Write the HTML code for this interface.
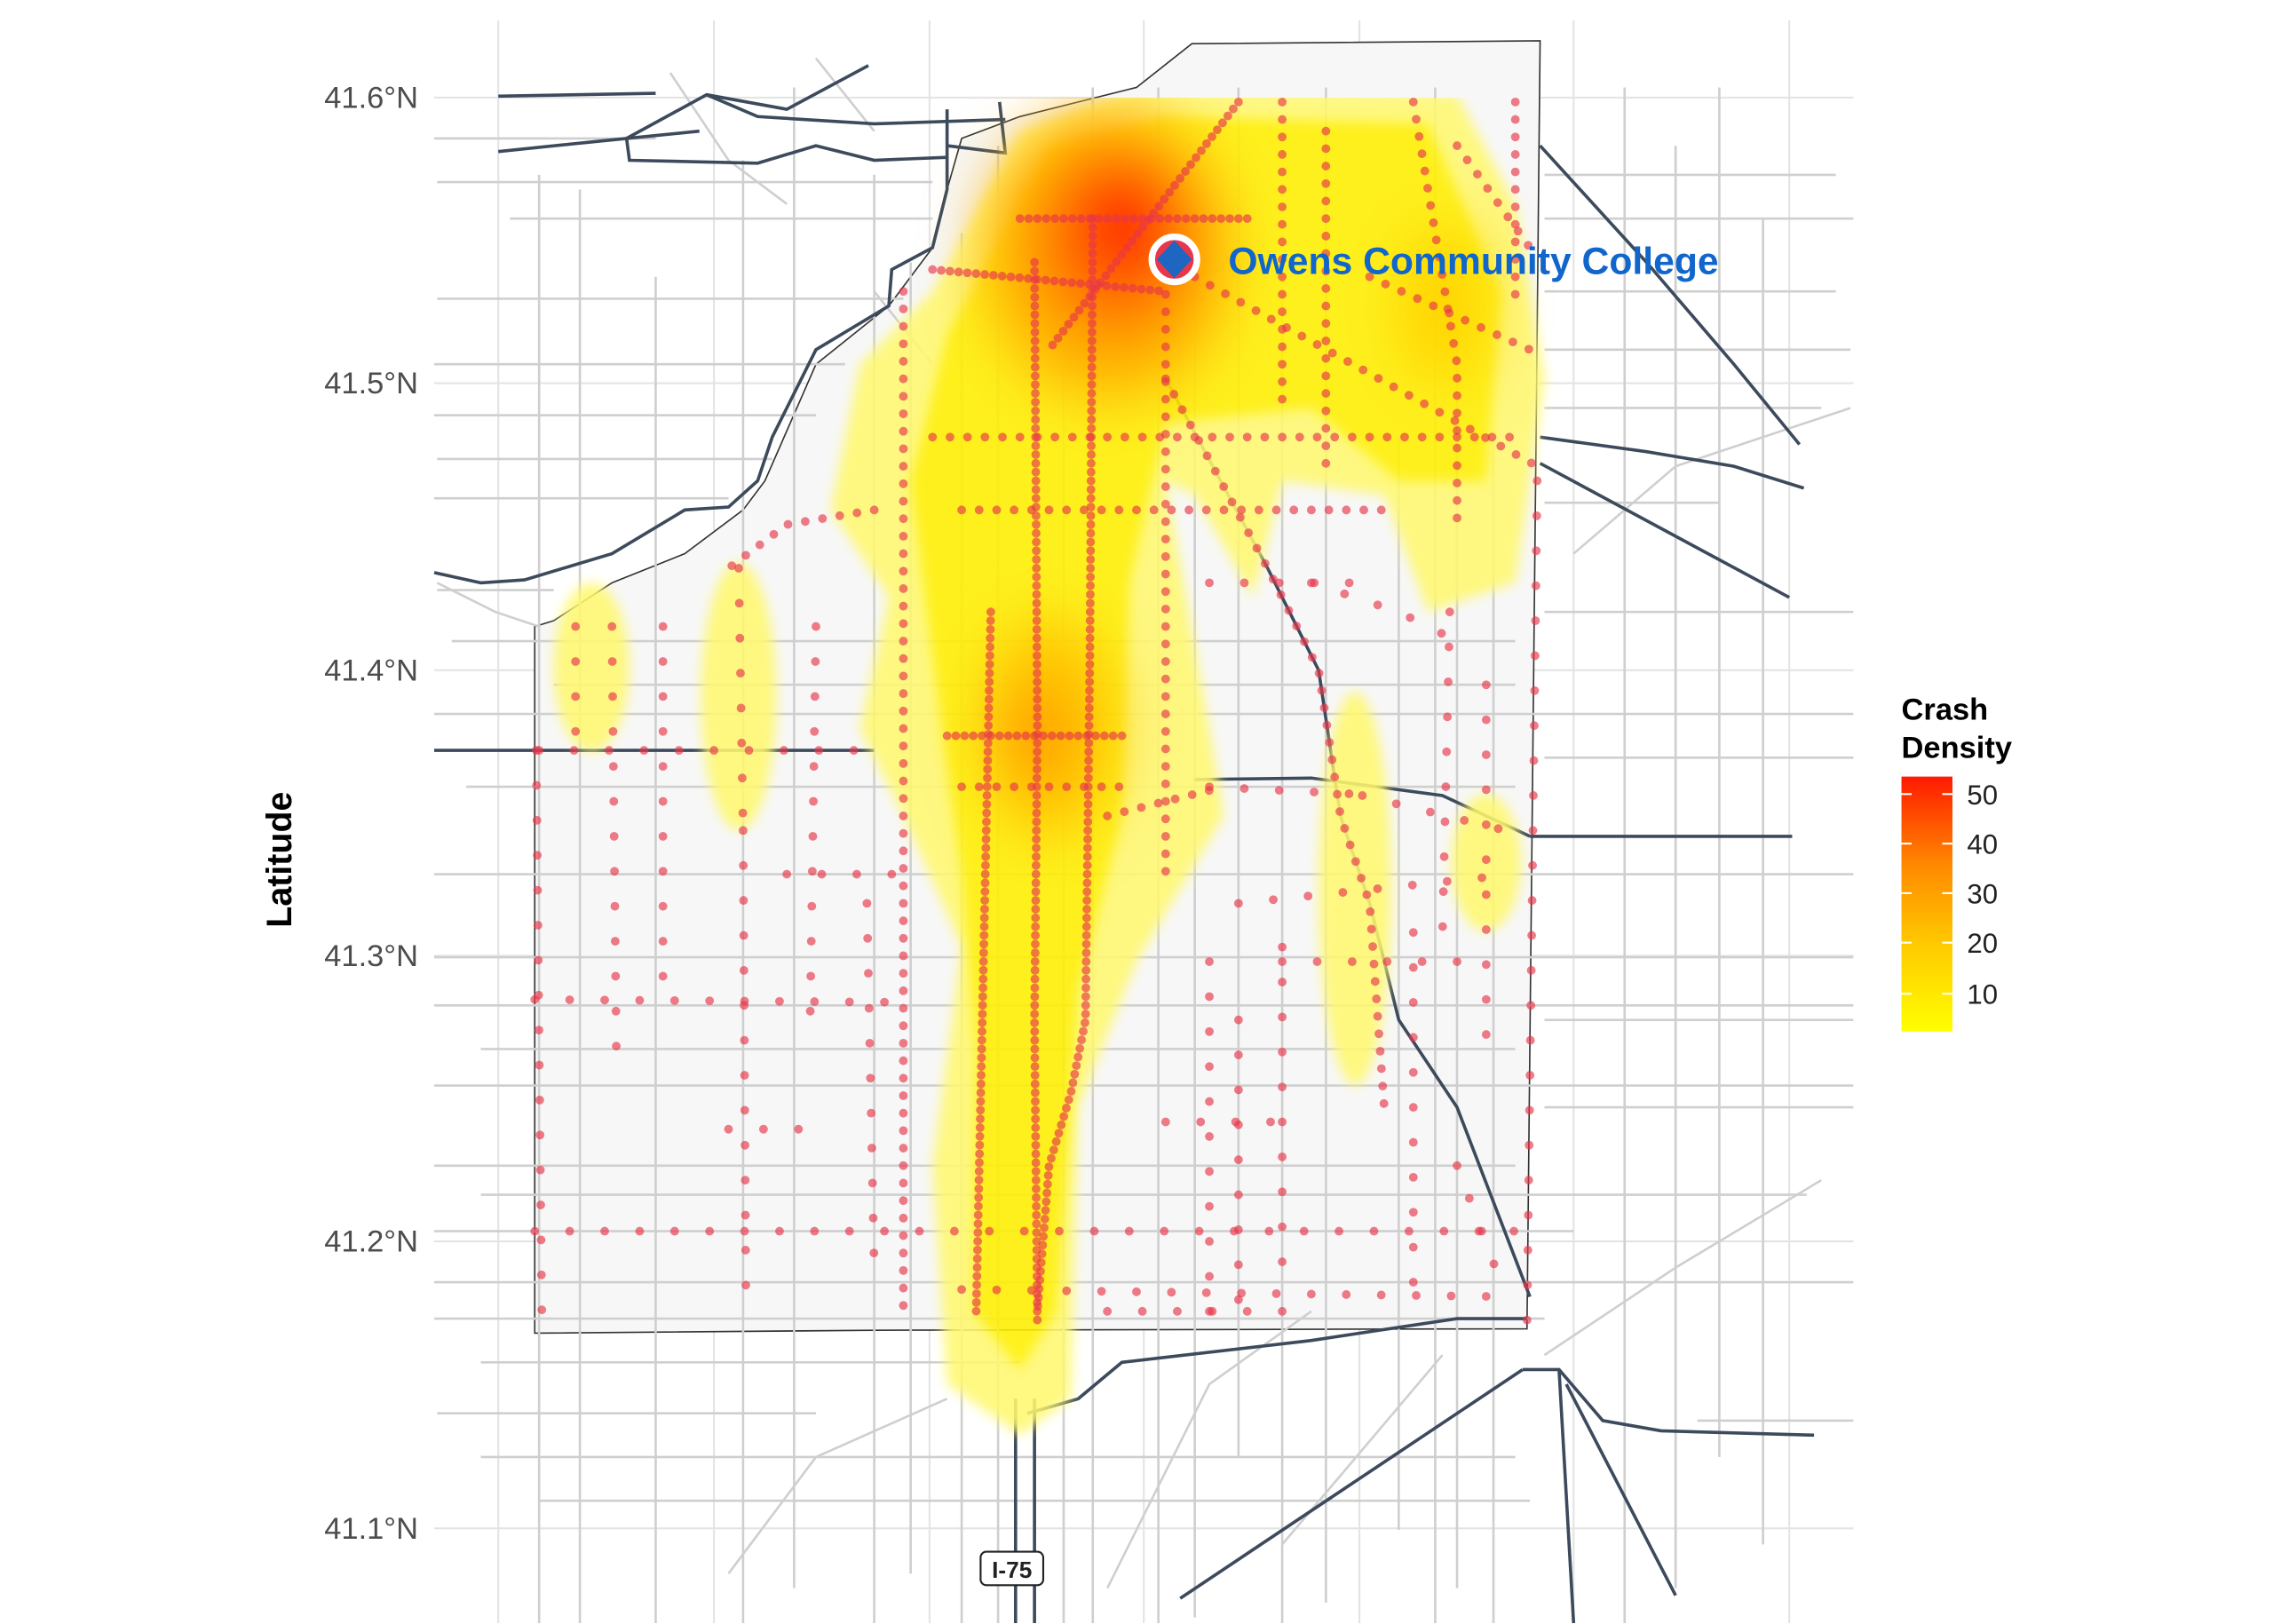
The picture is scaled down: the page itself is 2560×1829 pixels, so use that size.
<!DOCTYPE html>
<html><head><meta charset="utf-8"><style>
html,body{margin:0;padding:0;background:#fff;}
svg{display:block;}
text{font-family:"Liberation Sans",sans-serif;}
</style></head><body>
<svg width="2560" height="1829" viewBox="0 0 1560 1114.6" preserveAspectRatio="none" xmlns="http://www.w3.org/2000/svg">
<defs>
<filter id="b1" x="-50%" y="-50%" width="200%" height="200%"><feGaussianBlur stdDeviation="4"/></filter>
<filter id="b2" x="-50%" y="-50%" width="200%" height="200%"><feGaussianBlur stdDeviation="20"/></filter>
<linearGradient id="lg" x1="0" y1="1" x2="0" y2="0"><stop offset="0" stop-color="#ffff00"/><stop offset="0.35" stop-color="#ffc800"/><stop offset="0.65" stop-color="#ff8a00"/><stop offset="1" stop-color="#ff1a00"/></linearGradient>
<clipPath id="cp"><rect x="0" y="67" width="1560" height="1050"/></clipPath>
</defs>
<g stroke="#e4e4e4" stroke-width="1.3">
<path d="M298,67H1272M298,263H1272M298,460H1272M298,656H1272M298,852H1272M298,1049H1272"/>
<path d="M342,14V1114M490,14V1114M638,14V1114M785,14V1114M933,14V1114M1080,14V1114M1228,14V1114"/>
</g>
<path d="M367,430 L380,426 L420,400 L470,380 L510,350 L525,330 L560,250 L610,210 L640,170 L650,130 L660,95 L700,80 L780,60 L818,30 L1057,28 L1048,912 L600,913 L367,915 Z" fill="#f7f7f7" stroke="#333" stroke-width="1"/>
<g stroke="#cfcfcf" stroke-width="1.6" fill="none">
<path d="M370,120V1114M398,130V1114M450,190V1114M510,110V1114M545,60V1090M600,120V1114M625,180V1080M660,160V1114M685,100V1114M730,120V1114M750,60V1114M795,60V1114M820,200V1110M850,60V1000M880,200V1114M910,60V1100M960,300V1050M985,60V1114M1000,200V1090M1025,300V1114M1115,60V1114M1150,100V1090M1180,60V1000M1210,150V1060"/>
<path d="M298,95H450M300,125H640M350,150H640M300,205H620M298,250H580M298,285H560M300,315H530M298,342H500M300,405H380M310,440H1040M380,470H1040M298,490H1272M320,540H1040M298,600H1272M298,657H1272M298,690H1272M330,720H1040M298,745H1272M298,800H1040M330,820H1240M298,845H1080M298,880H1272M298,905H1060M330,935H700M300,970H560M330,1000H1040M370,1030H1050M1060,120H1260M1060,150H1272M1060,200H1260M1060,240H1270M1060,280H1250M1060,345H1180M1060,420H1272M1060,520H1272M1060,700H1272M1060,760H1272M1165,975H1272"/>
<path d="M500,1080 L560,1000 L650,960M760,1090 L830,950 L900,900M1060,930 L1150,870 L1250,810M880,1060 L990,930M1080,380 L1150,320 L1270,280M300,400 L340,420 L370,430M460,50 L500,110 L540,140M600,200 L640,250M560,40L600,90"/>
</g>
<g stroke="#3c4a5c" stroke-width="2.2" fill="none">
<path d="M342,66 L450,64"/><path d="M342,104 L420,96 L480,90"/>
<path d="M430,95 L432,110 L520,112 L560,100 L600,110 L650,108"/>
<path d="M430,95 L485,65 L540,75 L596,45"/>
<path d="M485,65 L520,80 L600,85 L690,82"/>
<path d="M298,393 L330,400 L360,398 L420,380 L470,350 L500,348 L520,330 L530,300 L560,240 L610,210 L612,185 L640,170 L650,130 L650,75"/>
<path d="M650,100 L690,105 L686,70"/>
<path d="M1057,100 L1130,180 L1190,250 L1235,305"/>
<path d="M1057,300 L1130,310 L1190,320 L1238,335"/>
<path d="M1057,318 L1228,410"/>
<path d="M298,515 L600,515"/><path d="M1050,574 L1230,574"/>
<path d="M820,535 L900,534 L990,546 L1050,574"/>
<path d="M810,1097 L1045,940"/><path d="M1075,950 L1150,1095"/>
<path d="M705,970 L740,960 L770,935 L900,920 L1000,905 L1048,905"/>
<path d="M1045,940 L1070,940 L1100,975 L1140,982 L1245,985"/>
<path d="M1070,940 L1080,1114"/>
<path d="M697,1114 L697,960"/><path d="M710,1114 L710,960"/>
<path d="M800,260 L870,390 L905,460 L920,560 L940,620 L960,700 L1000,760 L1050,890"/>
</g>
<g clip-path="url(#cp)" opacity="0.88">
<g filter="url(#b1)" fill="#fff870">
<path d="M640,200 L700,90 L780,60 L1000,65 L1040,140 L1060,260 L1040,400 L980,420 L950,340 L880,330 L860,410 L820,340 L800,330 L830,500 L840,560 L780,660 L740,760 L735,960 L700,985 L650,950 L640,800 L660,650 L620,560 L590,500 L610,410 L570,350 L590,250 Z"/>
<ellipse cx="406" cy="458" rx="26" ry="58"/><ellipse cx="507" cy="478" rx="26" ry="92"/>
<ellipse cx="930" cy="610" rx="25" ry="135"/><ellipse cx="1020" cy="592" rx="24" ry="47"/>
</g>
<g filter="url(#b1)" fill="#fff000">
<path d="M650,230 L720,100 L800,80 L980,85 L1030,200 L1020,330 L960,330 L900,280 L800,290 L775,400 L770,560 L740,680 L725,900 L700,940 L668,900 L670,720 L660,600 L640,450 L625,330 Z"/>
</g>
</g>
<g clip-path="url(#cp)" filter="url(#b2)">
<ellipse cx="760" cy="175" rx="85" ry="100" fill="#ffb400"/>
<ellipse cx="720" cy="500" rx="45" ry="75" fill="#ffc400"/>
<ellipse cx="990" cy="210" rx="30" ry="55" fill="#ffd400"/>
<ellipse cx="765" cy="165" rx="55" ry="65" fill="#ff7000"/>
<ellipse cx="772" cy="155" rx="30" ry="34" fill="#ff2200"/>
<ellipse cx="712" cy="505" rx="22" ry="32" fill="#ff9a00"/>
</g>
<g stroke="#e8364a" stroke-opacity="0.65" stroke-width="6" stroke-linecap="round" fill="none">
<g stroke-dasharray="0 6">
<path d="M710,180 L712,500 L710,700 L712,910"/><path d="M750,150 L748,450 L745,700 L735,750 L720,800 L712,900"/>
<path d="M850,70 L720,240"/><path d="M650,505 L775,505"/><path d="M680,420 L670,900"/>
<path d="M700,150 L860,150"/><path d="M640,185 L800,200"/>
</g>
<g stroke-dasharray="0 12">
<path d="M820,190 L1055,320"/><path d="M940,190 L1050,240"/><path d="M970,70 L1000,250 L1000,360"/>
<path d="M800,260 L870,390 L905,460 L920,560 L940,620 L950,760"/><path d="M1000,100 L1050,170"/>
<path d="M620,200 L620,900"/><path d="M800,190 L800,610"/><path d="M660,540 L770,540"/>
<path d="M1040,70 L1040,210"/><path d="M880,70 L880,280"/><path d="M910,90 L910,320"/>
<path d="M640,300 L1040,300"/><path d="M660,350 L960,350"/><path d="M760,560 L840,540"/>
<path d="M600,350 L540,360 L500,390"/>
</g>
<g stroke-dasharray="0 24">
<path d="M1055,330 L1048,910"/><path d="M507,390 L510,570"/><path d="M370,515 L600,515"/>
<path d="M367,686 L630,688"/><path d="M367,845 L1045,845"/><path d="M660,885 L1040,890"/>
<path d="M850,620 L1040,600"/><path d="M830,540 L930,545"/><path d="M935,546 L1050,574"/>
<path d="M395,430 L395,515"/><path d="M368,515 L372,915"/><path d="M510,570 L512,900"/>
<path d="M455,430 L455,690"/><path d="M560,430 L556,700"/><path d="M500,775 H560"/>
<path d="M830,660 L830,910"/><path d="M850,700 L850,900"/><path d="M880,650 L880,890"/>
<path d="M970,640 L970,900"/><path d="M1020,470 L1020,720"/><path d="M995,420 L990,640"/>
<path d="M880,660 H1020"/><path d="M800,770 H890"/><path d="M760,900 H900"/>
<path d="M540,600 H620"/><path d="M420,430 L423,720"/><path d="M595,620 L600,870"/>
<path d="M900,400 L960,420 L1000,440"/><path d="M830,400 H950"/><path d="M1000,800 L1030,880"/>
</g>
</g>
<circle cx="806" cy="178" r="15.5" fill="#e8364a" stroke="#fff" stroke-width="4.5"/>
<path d="M806,165 L818,178 L806,191 L794,178 Z" fill="#1f66c0"/>
<text x="843" y="188" font-size="26" font-weight="bold" fill="#1166cc">Owens Community College</text>
<rect x="673" y="1065" width="43" height="23" rx="4" fill="#fff" stroke="#222" stroke-width="1.3"/>
<text x="694.5" y="1083" font-size="16" font-weight="bold" text-anchor="middle" fill="#222">I-75</text>
<g font-size="21" fill="#4d4d4d" text-anchor="end">
<text x="287" y="74">41.6°N</text><text x="287" y="270">41.5°N</text><text x="287" y="467">41.4°N</text>
<text x="287" y="663">41.3°N</text><text x="287" y="859">41.2°N</text><text x="287" y="1056">41.1°N</text>
</g>
<text transform="translate(200,590) rotate(-90)" font-size="24" font-weight="bold" text-anchor="middle">Latitude</text>
<text x="1305" y="494" font-size="21" font-weight="bold">Crash</text>
<text x="1305" y="520" font-size="21" font-weight="bold">Density</text>
<rect x="1305" y="533" width="35" height="175" fill="url(#lg)"/>
<g stroke="#fff" stroke-width="1.3"><path d="M1305,545h7M1333,545h7M1305,579h7M1333,579h7M1305,613h7M1333,613h7M1305,647h7M1333,647h7M1305,682h7M1333,682h7"/></g>
<g font-size="19" fill="#222"><text x="1350" y="552">50</text><text x="1350" y="586">40</text><text x="1350" y="620">30</text><text x="1350" y="654">20</text><text x="1350" y="689">10</text></g>
</svg>
</body></html>
